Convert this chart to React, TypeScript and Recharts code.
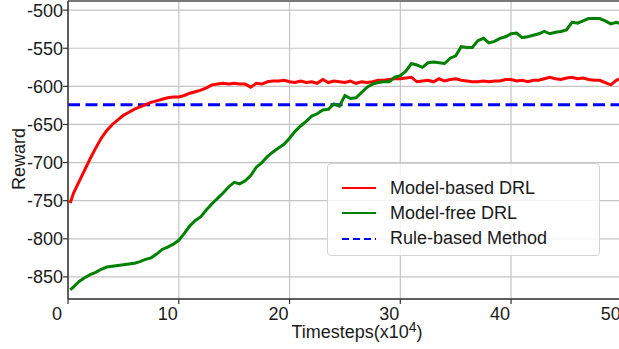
import React from "react";
import {
  LineChart,
  Line,
  XAxis,
  YAxis,
  CartesianGrid,
  ReferenceLine,
  Label,
} from "recharts";

// timesteps in units of 1e4
const timesteps = [
  0.2, 0.5, 1, 1.5, 2, 2.5, 3, 3.5, 4, 4.5, 5, 5.5, 6, 6.5, 7, 7.5, 8, 8.5, 9, 9.5,
  10, 10.5, 11, 11.5, 12, 12.5, 13, 13.5, 14, 14.5, 15, 15.5, 16, 16.5, 17, 17.5, 18, 18.5, 19, 19.5,
  20, 20.5, 21, 21.5, 22, 22.5, 23, 23.5, 24, 24.5, 25, 25.5, 26, 26.5, 27, 27.5, 28, 28.5, 29, 29.5,
  30, 30.5, 31, 31.5, 32, 32.5, 33, 33.5, 34, 34.5, 35, 35.5, 36, 36.5, 37, 37.5, 38, 38.5, 39, 39.5,
  40, 40.5, 41, 41.5, 42, 42.5, 43, 43.5, 44, 44.5, 45, 45.5, 46, 46.5, 47, 47.5, 48, 48.5, 49, 49.5,
  50,
];

const modelBased = [
  -753, -740, -725, -710, -695, -681, -668, -658, -650, -644, -638, -634, -630, -627, -624, -621, -619, -617, -615, -614,
  -614, -612, -609, -607, -605, -602, -598, -597, -596, -597, -596, -597, -597, -601, -596, -597, -594, -593, -593, -592,
  -594, -595, -593, -595, -594, -596, -591, -595, -593, -594, -595, -593, -596, -594, -595, -594, -592, -592, -591, -590,
  -590, -589, -588, -594, -593, -592, -594, -590, -593, -591, -590, -592, -593, -594, -594, -593, -594, -593, -593, -591,
  -591, -593, -592, -594, -592, -592, -590, -588, -590, -591, -589, -588, -590, -589, -591, -592, -592, -595, -598, -592,
  -589,
];

const modelFree = [
  -867, -863, -856, -851, -847, -844, -840, -837, -836, -835, -834, -833, -832, -830, -827, -825, -820, -814, -811, -807,
  -802, -793, -783, -776, -771, -762, -754, -747, -740, -732, -726, -728, -724, -717, -706, -700, -692, -686, -681, -676,
  -668, -659, -652, -646, -639, -636, -631, -630, -623, -626, -612, -616, -615, -608, -601, -597, -595, -594, -594, -588,
  -586, -580, -570, -572, -575, -569, -568, -569, -570, -563, -560, -548, -549, -549, -540, -537, -543, -541, -537, -535,
  -531, -530, -536, -535, -533, -531, -528, -531, -529, -528, -526, -516, -517, -514, -511, -511, -511, -514, -518, -516,
  -518,
];

const ruleBased = -624;

const xTicks = [0, 10, 20, 30, 40, 50];
const yTicks = [-850, -800, -750, -700, -650, -600, -550, -500];

const chartData = timesteps.map((t, i) => ({
  t,
  modelBased: modelBased[i],
  modelFree: modelFree[i],
}));

const legendItems = [
  { name: "Model-based DRL", color: "#ff0000", dash: undefined },
  { name: "Model-free DRL", color: "#008000", dash: undefined },
  { name: "Rule-based Method", color: "#0000ff", dash: "7 4" },
];

const font = "'Liberation Sans', Arial, sans-serif";
const textColor = "#1a1a1a";

export default function App() {
  return (
    <div
      style={{
        position: "absolute",
        left: 0,
        top: 0,
        width: 619,
        height: 349,
        overflow: "hidden",
        background: "#fff",
        fontFamily: font,
      }}
    >
      <LineChart
        width={660}
        height={349}
        data={chartData}
        margin={{ top: 1, right: 16, left: 0, bottom: 0 }}
      >
        <CartesianGrid stroke="#c4c4c4" strokeWidth={1.2} />
        <XAxis
          dataKey="t"
          type="number"
          domain={[0, 52]}
          ticks={xTicks}
          height={50}
          tickSize={5}
          tickMargin={3}
          axisLine={{ stroke: "#333", strokeWidth: 1.5 }}
          tickLine={{ stroke: "#333", strokeWidth: 1.2 }}
          tick={{ fontSize: 18, fill: textColor, fontFamily: font, dx: -11 }}
        >
          <Label
            content={() => (
              <text x={357} y={338} textAnchor="middle" fontSize={18} fill={textColor} fontFamily={font}>
                Timesteps(x10
                <tspan fontSize={14} dy={-6}>4</tspan>
                <tspan dy={6}>)</tspan>
              </text>
            )}
          />
        </XAxis>
        <YAxis
          type="number"
          domain={[-879, -488]}
          ticks={yTicks}
          width={68}
          tickSize={5}
          tickMargin={0}
          axisLine={{ stroke: "#333", strokeWidth: 1.5 }}
          tickLine={{ stroke: "#333", strokeWidth: 1.2 }}
          tick={{ fontSize: 18, fill: textColor, fontFamily: font }}
        >
          <Label
            content={() => (
              <text
                x={25}
                y={159}
                transform="rotate(-90 25 159)"
                textAnchor="middle"
                fontSize={18}
                fill={textColor}
                fontFamily={font}
              >
                Reward
              </text>
            )}
          />
        </YAxis>
        <ReferenceLine y={-488} stroke="#555" strokeWidth={1.5} />
        <ReferenceLine y={ruleBased} stroke="#0000ff" strokeWidth={3} strokeDasharray="12 5.5" />
        <Line
          dataKey="modelBased"
          stroke="#ff0000"
          strokeWidth={3}
          dot={false}
          isAnimationActive={false}
        />
        <Line
          dataKey="modelFree"
          stroke="#008000"
          strokeWidth={3}
          dot={false}
          isAnimationActive={false}
        />
      </LineChart>
      <div
        style={{
          position: "absolute",
          left: 327,
          top: 163,
          width: 273,
          height: 93,
          boxSizing: "border-box",
          border: "1px solid #d4d4d4",
          borderRadius: 4,
          background: "rgba(255,255,255,0.8)",
        }}
      >
        {legendItems.map((item, i) => (
          <div
            key={item.name}
            style={{
              position: "absolute",
              left: 14,
              top: 10 + i * 25.3,
              height: 28,
              display: "flex",
              alignItems: "center",
              fontSize: 18,
              color: textColor,
              whiteSpace: "nowrap",
            }}
          >
            <svg width={34} height={6} style={{ marginRight: 14 }}>
              <line
                x1={0}
                y1={3}
                x2={34}
                y2={3}
                stroke={item.color}
                strokeWidth={2}
                strokeDasharray={item.dash}
              />
            </svg>
            {item.name}
          </div>
        ))}
      </div>
    </div>
  );
}
